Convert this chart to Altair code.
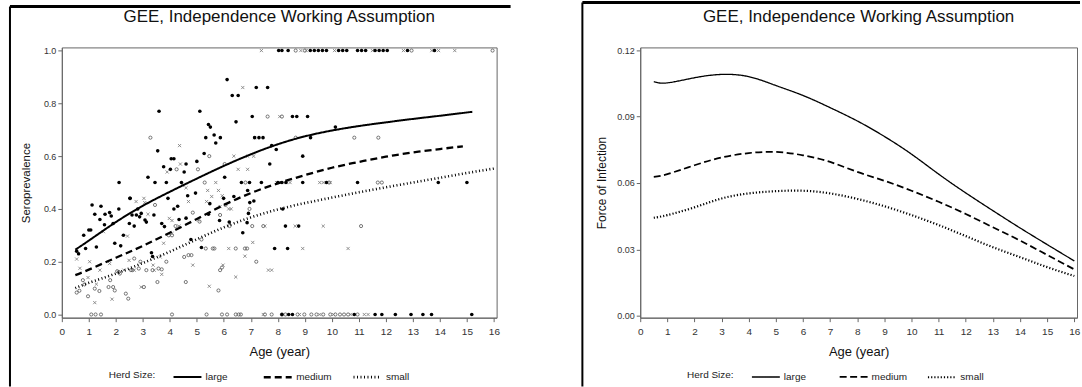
import altair as alt
import pandas as pd

FONT = "Liberation Sans"
TITLE = "GEE, Independence Working Assumption"
LEGEND_TITLE = "Herd Size:"
herds = ["large", "medium", "small"]

# ---- fitted seroprevalence curves (left panel)
sero_large_age = [0.5, 1, 2, 3, 4, 5, 6, 7, 8, 9, 10, 11, 12, 13, 14, 15.2]
sero_large = [0.246, 0.28, 0.35, 0.412, 0.465, 0.515, 0.563, 0.607, 0.645, 0.675, 0.697, 0.714, 0.728, 0.741, 0.753, 0.768]
sero_medium_age = [0.5, 1, 2, 3, 4, 5, 6, 7, 8, 9, 10, 11, 12, 13, 14, 14.85]
sero_medium = [0.149, 0.17, 0.215, 0.26, 0.31, 0.362, 0.415, 0.46, 0.497, 0.528, 0.556, 0.578, 0.598, 0.614, 0.627, 0.637]
sero_small_age = [0.5, 1, 2, 3, 4, 5, 6, 7, 8, 9, 10, 11, 12, 13, 14, 15, 16]
sero_small = [0.10, 0.12, 0.155, 0.195, 0.238, 0.285, 0.33, 0.368, 0.398, 0.422, 0.443, 0.463, 0.482, 0.50, 0.518, 0.536, 0.553]

# ---- observed herd-level proportions (left panel)
obs_large = [
    (2.12, 0.5), (2.53, 0.44), (3.55, 0.62), (3.6, 0.77), (3.19, 0.52), (3.45, 0.5), (3.77, 0.56), (3.87, 0.5),
    (4.02, 0.55), (4.05, 0.59), (4.15, 0.59), (4.43, 0.5), (4.53, 0.54), (4.6, 0.57), (5.11, 0.77), (5.27, 0.61),
    (5.33, 0.67), (5.43, 0.72), (5.5, 0.71), (5.64, 0.68), (5.7, 0.65), (5.87, 0.67), (6.03, 0.52), (6.12, 0.89),
    (6.31, 0.83), (6.53, 0.83), (7.2, 0.86), (7.62, 0.86), (6.45, 0.73), (7.05, 0.75), (7.14, 0.67), (7.3, 0.67),
    (7.45, 0.67), (8.54, 0.75), (8.7, 0.75), (9.1, 0.75), (7.77, 0.64), (7.94, 0.625), (7.7, 0.57), (8.92, 0.6),
    (9.21, 0.67), (10.13, 0.71), (6.95, 0.5), (6.65, 0.5), (7.39, 0.5), (8.0, 0.5), (8.15, 0.5), (8.3, 0.5),
    (8.92, 0.5), (9.8, 0.5), (10.95, 0.5), (13.94, 0.5), (15.0, 0.5), (5.0, 0.58),
    (2.52, 0.44), (3.93, 0.44), (4.95, 0.46), (4.66, 0.45), (5.48, 0.42), (6.88, 0.47), (1.12, 0.415), (1.45, 0.41),
    (1.22, 0.38), (1.41, 0.36), (1.6, 0.38), (1.77, 0.386), (1.83, 0.373), (2.11, 0.40), (1.9, 0.345), (1.58, 0.34),
    (0.81, 0.30), (1.0, 0.32), (1.07, 0.32), (0.88, 0.25), (0.55, 0.24), (0.62, 0.23), (1.28, 0.256), (1.96, 0.27),
    (2.18, 0.26), (2.28, 0.30), (2.5, 0.345), (2.6, 0.377), (2.76, 0.377), (2.88, 0.37), (2.94, 0.383), (2.68, 0.335),
    (2.81, 0.40), (3.08, 0.358), (3.13, 0.35), (3.41, 0.377), (3.32, 0.234), (3.36, 0.22), (3.7, 0.345), (3.8, 0.333),
    (4.15, 0.40), (4.29, 0.41), (4.34, 0.36), (4.6, 0.365), (4.78, 0.284), (5.17, 0.254), (5.43, 0.38), (5.84, 0.356),
    (6.2, 0.35), (6.7, 0.31), (6.86, 0.348), (6.91, 0.383), (7.11, 0.43), (7.88, 0.25), (8.18, 0.40), (8.28, 0.335),
    (8.36, 0.25), (8.77, 0.335), (5.99, 0.44), (6.37, 0.447), (6.96, 0.424),
    (8.15, 0.0), (8.4, 0.0), (8.54, 0.0), (10.83, 0.0), (11.6, 0.0), (11.85, 0.0), (12.35, 0.0), (12.93, 0.0),
    (13.37, 0.0), (13.69, 0.0), (15.18, 0.0),
    (8.03, 1.0), (8.15, 1.0), (8.38, 1.0), (9.2, 1.0), (9.35, 1.0), (9.5, 1.0), (9.65, 1.0), (9.8, 1.0),
    (10.25, 1.0), (10.4, 1.0), (10.55, 1.0), (10.95, 1.0), (11.1, 1.0), (11.25, 1.0), (11.6, 1.0), (11.75, 1.0),
    (11.9, 1.0), (12.05, 1.0), (12.8, 1.0), (13.8, 1.0),
]
obs_medium = [
    (0.55, 0.21), (0.67, 0.175), (1.03, 0.2), (1.28, 0.115), (1.22, 0.045), (0.97, 0.14), (1.41, 0.168), (1.54, 0.314),
    (1.77, 0.193), (1.86, 0.058), (2.3, 0.168), (2.43, 0.297), (2.75, 0.428), (2.68, 0.168), (2.49, 0.205), (2.94, 0.104),
    (3.07, 0.424), (3.19, 0.38), (3.38, 0.187), (3.42, 0.168), (3.64, 0.218), (3.7, 0.152), (3.77, 0.27), (3.98, 0.364),
    (4.08, 0.307), (4.08, 0.356), (4.34, 0.335), (4.69, 0.428), (4.85, 0.187), (5.06, 0.358), (5.36, 0.428), (5.55, 0.447),
    (5.8, 0.47), (5.86, 0.409), (6.18, 0.40), (6.27, 0.40), (5.97, 0.187), (6.18, 0.25), (6.44, 0.142), (6.78, 0.221),
    (7.07, 0.273), (7.52, 0.335), (7.65, 0.168), (7.77, 0.168), (8.64, 0.335), (8.92, 0.25), (9.68, 0.335), (10.6, 0.25),
    (5.46, 0.107), (3.04, 0.44), (3.9, 0.54), (4.6, 0.48), (5.4, 0.47), (5.7, 0.5), (5.94, 0.45), (4.36, 0.64),
    (6.7, 0.86), (6.37, 0.6), (6.53, 0.55), (6.88, 0.6), (7.1, 0.6), (6.88, 0.55), (7.14, 0.67), (8.07, 0.75),
    (7.95, 0.5), (8.3, 0.5), (8.45, 0.5), (9.55, 0.5), (9.68, 0.5), (9.94, 0.5), (4.47, 0.49), (4.39, 0.57),
    (7.46, 0.0), (8.8, 0.0), (9.55, 0.0), (10.06, 0.0), (10.7, 0.0), (11.2, 0.0), (11.34, 0.0),
    (7.39, 1.0), (8.85, 1.0), (9.05, 1.0), (10.1, 1.0), (11.5, 1.0), (12.65, 1.0), (13.7, 1.0), (13.95, 1.0), (14.55, 1.0),
]
obs_small = [
    (0.55, 0.083), (0.65, 0.09), (0.78, 0.13), (0.84, 0.114), (0.97, 0.069), (1.22, 0.098), (1.39, 0.089), (1.73, 0.104),
    (1.9, 0.104), (1.79, 0.13), (1.96, 0.091), (2.05, 0.164), (2.15, 0.155), (2.11, 0.161), (2.37, 0.079), (2.46, 0.06),
    (2.56, 0.168), (2.62, 0.168), (2.68, 0.212), (2.91, 0.2), (2.85, 0.174), (3.04, 0.104), (3.13, 0.168), (3.36, 0.168),
    (3.58, 0.174), (3.54, 0.123), (3.7, 0.171), (3.87, 0.2), (3.96, 0.3), (4.08, 0.3), (4.21, 0.335), (4.53, 0.218),
    (4.69, 0.225), (4.8, 0.225), (4.59, 0.123), (4.85, 0.386), (5.1, 0.352), (5.17, 0.284), (5.33, 0.25), (5.59, 0.25),
    (5.65, 0.25), (5.8, 0.091), (5.86, 0.168), (5.93, 0.178), (6.21, 0.335), (6.44, 0.25), (6.78, 0.25), (6.86, 0.25),
    (6.95, 0.40), (7.05, 0.335), (7.2, 0.2), (7.46, 0.335), (6.06, 0.415), (5.86, 0.377), (3.45, 0.415), (11.08, 0.335),
    (3.28, 0.67), (4.25, 0.55), (5.04, 0.55), (5.29, 0.5), (5.46, 0.6), (6.03, 0.57), (6.8, 0.5), (7.62, 0.75),
    (8.15, 0.75), (8.66, 0.67), (10.83, 0.67), (11.72, 0.67), (11.7, 0.5), (11.85, 0.5), (9.9, 0.5),
    (1.09, 0.0), (1.25, 0.0), (1.45, 0.0), (4.08, 0.0), (5.36, 0.0), (5.93, 0.0), (6.12, 0.0), (6.44, 0.0), (6.55, 0.0),
    (6.63, 0.0), (7.52, 0.0), (7.77, 0.0), (8.15, 0.0), (8.28, 0.0), (8.73, 0.0), (8.98, 0.0), (9.24, 0.0), (9.43, 0.0),
    (9.68, 0.0), (9.94, 0.0), (10.13, 0.0), (10.3, 0.0), (10.45, 0.0), (10.6, 0.0), (10.95, 0.0),
    (8.66, 1.0), (9.0, 1.0), (12.95, 1.0), (15.95, 1.0),
]

# ---- force of infection curves (right panel)
foi_age = [0.5, 1, 2, 3, 4, 5, 6, 7, 8, 9, 10, 11, 12, 13, 14, 15, 16]
foi_large = [0.1057, 0.1052, 0.1075, 0.109, 0.108, 0.104, 0.0995, 0.094, 0.088, 0.081, 0.073, 0.064, 0.0555, 0.0475, 0.0397, 0.0322, 0.0248]
foi_medium = [0.0628, 0.064, 0.068, 0.0715, 0.0735, 0.074, 0.0725, 0.0695, 0.065, 0.061, 0.0565, 0.0515, 0.046, 0.040, 0.034, 0.0275, 0.021]
foi_small = [0.0443, 0.0455, 0.049, 0.053, 0.0553, 0.0563, 0.0565, 0.0553, 0.0528, 0.0495, 0.0455, 0.041, 0.036, 0.031, 0.0265, 0.022, 0.018]

x_ticks = list(range(0, 17))
sero_ticks = [0.0, 0.2, 0.4, 0.6, 0.8, 1.0]
foi_ticks = [0.0, 0.03, 0.06, 0.09, 0.12]

# ---------------- data frames
def curve_df(pairs):
    rows = []
    for herd, ages, vals in pairs:
        for a, v in zip(ages, vals):
            rows.append({"age": a, "value": v, "herd": herd})
    return pd.DataFrame(rows)

sero_curves = curve_df([("large", sero_large_age, sero_large),
                        ("medium", sero_medium_age, sero_medium),
                        ("small", sero_small_age, sero_small)])
foi_curves = curve_df([("large", foi_age, foi_large),
                       ("medium", foi_age, foi_medium),
                       ("small", foi_age, foi_small)])

def obs_df(pts):
    return pd.DataFrame(pts, columns=["age", "value"])

W_L, W_R, H = 436, 438, 271
one_row = alt.Data(values=[{"k": 0}])

def legend():
    return alt.Legend(
        title=None, orient="none", legendX=111, legendY=315,
        direction="horizontal", symbolType="stroke", symbolSize=784,
        symbolStrokeColor="black", labelOffset=3, columnPadding=16, gridAlign="all",
        labelFont=FONT, labelFontSize=10, labelColor="#222",
    )

def x_axis():
    return alt.Axis(values=x_ticks, title="Age  (year)", grid=False, tickSize=4,
                    labelOverlap=False, labelFlush=False,
                    labelFont=FONT, labelFontSize=10, labelColor="#333", labelPadding=5,
                    titleFont=FONT, titleFontSize=13, titleFontWeight="normal", titleColor="#111",
                    titlePadding=9, domainColor="#666", tickColor="#666")

x_enc = alt.X("age:Q", scale=alt.Scale(domain=[0, 16.1], nice=False), axis=x_axis())

def line_layer(df, widths, dashes):
    return alt.Chart(df).mark_line(color="black", interpolate="natural").encode(
        x=x_enc,
        strokeDash=alt.StrokeDash("herd:N", scale=alt.Scale(domain=herds, range=dashes), legend=legend()),
        strokeWidth=alt.StrokeWidth("herd:N", scale=alt.Scale(domain=herds, range=widths), legend=legend()),
        detail="herd:N",
    )

def frame(x0, x1, y0, y1):
    top = alt.Chart(one_row).mark_rule(color="black", strokeWidth=3).encode(
        x=alt.value(x0), x2=alt.value(x1), y=alt.value(y0))
    left = alt.Chart(one_row).mark_rule(color="black", strokeWidth=2).encode(
        x=alt.value(x0), y=alt.value(y0), y2=alt.value(y1))
    return top + left

def panel_title(width):
    return alt.Chart(one_row).mark_text(
        text=TITLE, font=FONT, fontSize=17, color="#111", align="center", baseline="middle"
    ).encode(x=alt.value(width / 2), y=alt.value(-30))

def legend_title():
    return alt.Chart(one_row).mark_text(
        text=LEGEND_TITLE, font=FONT, fontSize=10, color="#222", align="left", baseline="middle"
    ).encode(x=alt.value(47), y=alt.value(329))

# ---------------- left panel
sero_y = alt.Y("value:Q", scale=alt.Scale(domain=[-0.012, 1.012], nice=False),
               axis=alt.Axis(values=sero_ticks, format=".1f", title="Seroprevalence", grid=False,
                             tickSize=4, labelFont=FONT, labelFontSize=9, labelColor="#333",
                             labelPadding=2, titleFont=FONT, titleFontSize=11.5,
                             titleFontWeight="normal", titleColor="#111", titlePadding=12,
                             domainColor="#666", tickColor="#666"))

pts_large = alt.Chart(obs_df(obs_large)).mark_circle(size=13, color="black", opacity=1).encode(
    x=x_enc, y=sero_y)
pts_medium = alt.Chart(obs_df(obs_medium)).mark_point(
    shape="M-1,-1L1,1M-1,1L1,-1", size=10, filled=False, stroke="#777", strokeWidth=0.8, opacity=1
).encode(x=x_enc, y=sero_y)
pts_small = alt.Chart(obs_df(obs_small)).mark_point(
    shape="circle", size=10, filled=False, stroke="#555", strokeWidth=0.8, opacity=1
).encode(x=x_enc, y=sero_y)

sero_lines = line_layer(sero_curves, [2.0, 2.6, 1.2], [[1, 0], [7, 4], [1, 2.5]]).encode(y=sero_y)

left = alt.layer(
    frame(-52, 450, -41, 340), panel_title(W_L), legend_title(),
    pts_small, pts_medium, pts_large, sero_lines
).properties(width=W_L, height=H)

# ---------------- right panel
foi_y = alt.Y("value:Q", scale=alt.Scale(domain=[-0.0008, 0.1212], nice=False),
              axis=alt.Axis(values=foi_ticks, format=".2f", title="Force of Infection", grid=False,
                            tickSize=4, labelFont=FONT, labelFontSize=9, labelColor="#333",
                            labelPadding=2, titleFont=FONT, titleFontSize=12,
                            titleFontWeight="normal", titleColor="#111", titlePadding=8,
                            domainColor="#666", tickColor="#666"))
foi_lines = line_layer(foi_curves, [1.3, 2.2, 1.5], [[1, 0], [7, 3.5], [1.2, 2]]).encode(y=foi_y)

right = alt.layer(
    frame(-58, 441, -45, 340), panel_title(W_R), legend_title(), foi_lines
).properties(width=W_R, height=H)

chart = alt.hconcat(left, right, spacing=144, bounds="flush").resolve_scale(
    x="independent", y="independent", strokeDash="independent", strokeWidth="independent"
).properties(
    padding={"left": 8, "top": 0, "right": 0, "bottom": 0},
    background="white",
).configure_view(stroke="#666", strokeWidth=1)

chart.save("out.html", embed_options={"renderer": "svg", "actions": False})
